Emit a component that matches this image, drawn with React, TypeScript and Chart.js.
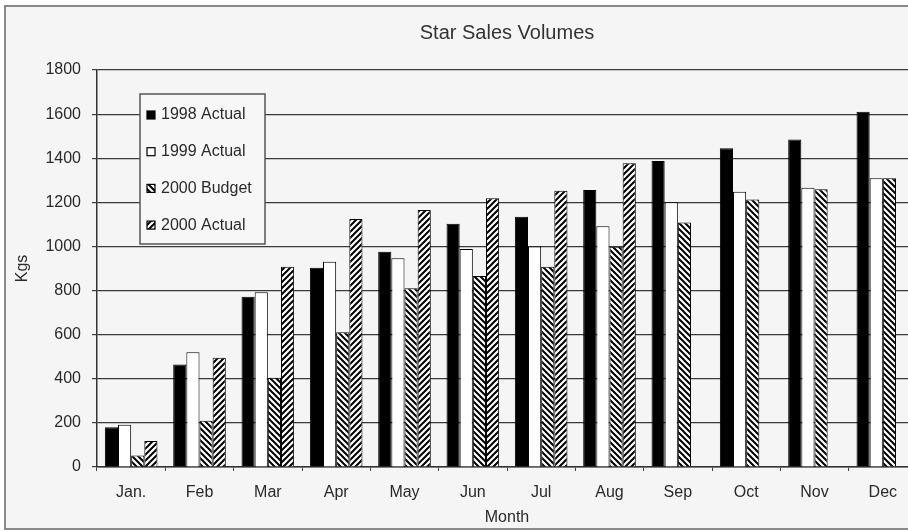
import React, { useEffect, useRef } from 'react';
import { Chart, registerables } from 'chart.js';

Chart.register(...registerables);

const months = ['Jan.', 'Feb', 'Mar', 'Apr', 'May', 'Jun', 'Jul', 'Aug', 'Sep', 'Oct', 'Nov', 'Dec'];
const seriesNames = ['1998 Actual', '1999 Actual', '2000 Budget', '2000 Actual'];
const actual1998 = [180, 465, 772, 903, 976, 1103, 1135, 1256, 1387, 1445, 1485, 1611];
const actual1999 = [192, 520, 792, 931, 946, 988, 1000, 1092, 1200, 1248, 1266, 1309];
const budget2000 = [52, 210, 405, 611, 810, 866, 908, 999, 1108, 1213, 1259, 1309];
const actual2000 = [118, 495, 908, 1124, 1165, 1218, 1253, 1377, null, null, null, null];
const yTickValues = [0, 200, 400, 600, 800, 1000, 1200, 1400, 1600, 1800];

const chartTitle = 'Star Sales Volumes';
const xTitle = 'Month';
const yTitle = 'Kgs';

const FONT = "'Liberation Sans', Arial, sans-serif";
const TEXT = '#2a2a2a';

function makePattern(ctx: CanvasRenderingContext2D, dir: 'down' | 'up') {
  const c = document.createElement('canvas');
  c.width = 6;
  c.height = 6;
  const g = c.getContext('2d')!;
  g.fillStyle = '#ffffff';
  g.fillRect(0, 0, 6, 6);
  g.strokeStyle = '#000000';
  g.lineWidth = 2;
  g.beginPath();
  if (dir === 'down') {
    g.moveTo(-1, -1); g.lineTo(7, 7);
    g.moveTo(-1, 5); g.lineTo(1, 7);
    g.moveTo(5, -1); g.lineTo(7, 1);
  } else {
    g.moveTo(-1, 7); g.lineTo(7, -1);
    g.moveTo(-1, 1); g.lineTo(1, -1);
    g.moveTo(5, 7); g.lineTo(7, 5);
  }
  g.stroke();
  return ctx.createPattern(c, 'repeat')!;
}

const framePlugin = {
  id: 'frameAndLegend',
  beforeDraw(chart: any) {
    const { ctx, width, height } = chart;
    ctx.save();
    ctx.fillStyle = '#ffffff';
    ctx.fillRect(0, 0, width, height);
    ctx.fillStyle = '#f5f5f5';
    ctx.fillRect(5, 6, width, 523);
    ctx.strokeStyle = '#8a8a8a';
    ctx.lineWidth = 2;
    ctx.strokeRect(5, 6, width + 20, 523);
    ctx.restore();
  },
  afterDraw(chart: any) {
    const { ctx, chartArea } = chart;
    const x = chartArea.left + 43;
    const y = chartArea.top + 24;
    const w = 125;
    const h = 150;
    ctx.save();
    ctx.fillStyle = '#f7f7f7';
    ctx.fillRect(x, y, w, h);
    ctx.strokeStyle = '#555555';
    ctx.lineWidth = 1.5;
    ctx.strokeRect(x, y, w, h);
    const rowGap = 36.7;
    const firstRow = y + 21;
    chart.data.datasets.forEach((ds: any, i: number) => {
      const cy = firstRow + i * rowGap;
      ctx.fillStyle = ds.backgroundColor;
      ctx.fillRect(x + 7, cy - 4, 8, 8);
      ctx.strokeStyle = '#000';
      ctx.lineWidth = 1.2;
      ctx.strokeRect(x + 7, cy - 4, 8, 8);
      ctx.fillStyle = TEXT;
      ctx.font = `16px ${FONT}`;
      ctx.textBaseline = 'middle';
      ctx.textAlign = 'left';
      ctx.fillText(ds.label, x + 21, cy);
    });
    ctx.restore();
  },
};

export default function App() {
  const ref = useRef<HTMLCanvasElement | null>(null);

  useEffect(() => {
    const canvas = ref.current;
    if (!canvas) return;
    const ctx = canvas.getContext('2d')!;
    const budgetPattern = makePattern(ctx, 'down');
    const actualPattern = makePattern(ctx, 'up');

    const common = {
      borderColor: '#000000',
      borderWidth: 1,
      categoryPercentage: 0.77,
      barPercentage: 1.0,
    };

    const chart = new Chart(canvas, {
      type: 'bar',
      data: {
        labels: months,
        datasets: [
          { ...common, label: seriesNames[0], data: actual1998, backgroundColor: '#000000' },
          { ...common, label: seriesNames[1], data: actual1999, backgroundColor: '#ffffff' },
          { ...common, label: seriesNames[2], data: budget2000, backgroundColor: budgetPattern as any },
          { ...common, label: seriesNames[3], data: actual2000 as any, backgroundColor: actualPattern as any },
        ],
      },
      options: {
        animation: false,
        responsive: false,
        devicePixelRatio: 1,
        layout: { padding: { left: 8, top: 0, right: 8, bottom: 5 } },
        plugins: {
          legend: { display: false },
          tooltip: { enabled: false },
          title: {
            display: true,
            fullSize: false,
            text: chartTitle,
            color: '#333333',
            font: { family: FONT, size: 20, weight: 'normal' as any },
            padding: { top: 21, bottom: 25 },
          },
        },
        scales: {
          x: {
            grid: {
              display: true,
              drawOnChartArea: false,
              drawTicks: true,
              tickLength: 4,
              color: '#444444',
              offset: true,
            },
            border: { display: true, color: '#333333', width: 1.5 },
            ticks: {
              color: TEXT,
              font: { family: FONT, size: 16 },
              padding: 12,
              maxRotation: 0,
              autoSkip: false,
            },
            title: {
              display: true,
              text: xTitle,
              color: TEXT,
              font: { family: FONT, size: 16 },
              padding: { top: 0, bottom: 0 },
            },
            afterFit(scale: any) {
              scale.height = 60;
            },
          },
          y: {
            min: 0,
            max: 1800,
            afterBuildTicks(scale: any) {
              scale.ticks = yTickValues.map((v) => ({ value: v }));
            },
            grid: {
              color: '#3a3a3a',
              lineWidth: 1.2,
              drawTicks: true,
              tickLength: 5,
            },
            border: { display: true, color: '#333333', width: 1.5 },
            ticks: {
              color: TEXT,
              font: { family: FONT, size: 16 },
              padding: 11,
              callback: (v: any) => String(v),
            },
            title: {
              display: true,
              text: yTitle,
              color: TEXT,
              font: { family: FONT, size: 16 },
              padding: { top: 5, bottom: 0 },
            },
            afterFit(scale: any) {
              scale.width = 89;
            },
          },
        },
      },
      plugins: [framePlugin],
    });

    return () => chart.destroy();
  }, []);

  return (
    <div
      style={{
        position: 'absolute',
        left: 0,
        top: 0,
        width: 908,
        height: 532,
        overflow: 'hidden',
        background: '#ffffff',
      }}
    >
      <canvas ref={ref} width={925} height={532} style={{ display: 'block' }} />
    </div>
  );
}
